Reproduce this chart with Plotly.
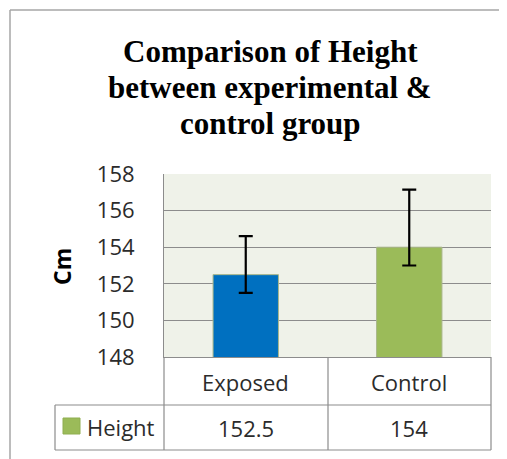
import plotly.graph_objects as go

categories = ["Exposed", "Control"]
values = [152.5, 154]
err_plus = [2.1, 3.15]
err_minus = [1.0, 1.0]
series_name = "Height"
y_ticks = [148, 150, 152, 154, 156, 158]
title_lines = ["Comparison of Height", "between experimental &", "control group"]
y_title = "Cm"

OFF = 8  # default page body margin
W, H = 507, 459
# plot area in figure pixels (screenshot pixels minus body margin)
L, R, T, B = 164 - OFF, 491 - OFF, 174 - OFF, 357 - OFF

def px(x):
    return (x - OFF - L) / (R - L)

def py(y):
    return (B - (y - OFF)) / (B - T)

colors = ["#0070C0", "#9BBB59"]

fig = go.Figure()
fig.add_trace(go.Bar(
    x=categories, y=values, name=series_name,
    marker=dict(color=colors, line=dict(color="#A8B68A", width=1)),
    width=0.40,
    error_y=dict(type="data", symmetric=False, array=err_plus, arrayminus=err_minus,
                 color="black", thickness=2.2, width=7),
    showlegend=False,
))

sans = "Open Sans, Noto Sans, sans-serif"
txt = "#2b2b2b"

fig.update_layout(
    width=W, height=H,
    margin=dict(l=L, r=W - R, t=T, b=H - B),
    paper_bgcolor="white",
    plot_bgcolor="#EFF2E9",
    xaxis=dict(showticklabels=False, ticks="", showgrid=False, showline=True,
               linecolor="#8C8C8C", linewidth=1, range=[-0.5, 1.5]),
    yaxis=dict(range=[148, 158], tickvals=y_ticks, ticktext=[str(t) for t in y_ticks],
               showgrid=True, gridcolor="#8C8C8C", gridwidth=1, zeroline=False,
               showline=True, linecolor="#8C8C8C", linewidth=1,
               tickfont=dict(family=sans, size=22, color=txt),
               ticks="", ticklabelstandoff=24),
)

shapes = []
frame_col = "#A6A6A6"
# outer frame (top and left edges; the others lie outside the picture)
shapes.append(dict(type="line", xref="paper", yref="paper", x0=px(10), x1=px(515),
                   y0=py(10), y1=py(10), line=dict(color=frame_col, width=1.5), layer="below"))
shapes.append(dict(type="line", xref="paper", yref="paper", x0=px(10), x1=px(10),
                   y0=py(10), y1=py(470), line=dict(color=frame_col, width=1.5), layer="below"))
line_col = "#8C8C8C"
def hline(y, x0, x1):
    shapes.append(dict(type="line", xref="paper", yref="paper", x0=px(x0), x1=px(x1),
                       y0=py(y), y1=py(y), line=dict(color=line_col, width=1.2)))
def vline(x, y0, y1):
    shapes.append(dict(type="line", xref="paper", yref="paper", x0=px(x), x1=px(x),
                       y0=py(y0), y1=py(y1), line=dict(color=line_col, width=1.2)))
hline(405, 55, 491)
hline(450, 55, 491)
vline(164, 357, 450)
vline(328, 357, 450)
vline(491, 357, 450)
vline(55, 405, 450)
# legend key
shapes.append(dict(type="rect", xref="paper", yref="paper",
                   x0=px(63), x1=px(80), y0=py(434), y1=py(418),
                   fillcolor=colors[1], line=dict(color="#8FAE50", width=1)))
fig.update_layout(shapes=shapes)

ann = []
for c in categories:
    ann.append(dict(x=c, xref="x", y=py(382), yref="paper", text=c, showarrow=False,
                    font=dict(family=sans, size=22, color=txt), xanchor="center", yanchor="middle"))
for c, v in zip(categories, values):
    ann.append(dict(x=c, xref="x", y=py(428), yref="paper", text=f"{v:g}", showarrow=False,
                    font=dict(family=sans, size=22, color=txt), xanchor="center", yanchor="middle"))
ann.append(dict(x=px(85), xref="paper", y=py(427), yref="paper", text=series_name, showarrow=False,
                font=dict(family=sans, size=22, color=txt), xanchor="left", yanchor="middle"))
ann.append(dict(x=px(62), xref="paper", y=py(267), yref="paper", text=f"<b>{y_title}</b>", showarrow=False,
                textangle=-90, font=dict(family=sans, size=23, color="#000000"),
                xanchor="center", yanchor="middle"))
for i, line in enumerate(title_lines):
    ann.append(dict(x=px(270), xref="paper", y=py(52 + 36 * i), yref="paper",
                    text=f"<b>{line}</b>", showarrow=False,
                    font=dict(family="Liberation Serif, Times New Roman, serif", size=31, color="#000000"),
                    xanchor="center", yanchor="middle", align="center"))
fig.update_layout(annotations=ann)

fig.write_html("out.html", config={"displayModeBar": False})
